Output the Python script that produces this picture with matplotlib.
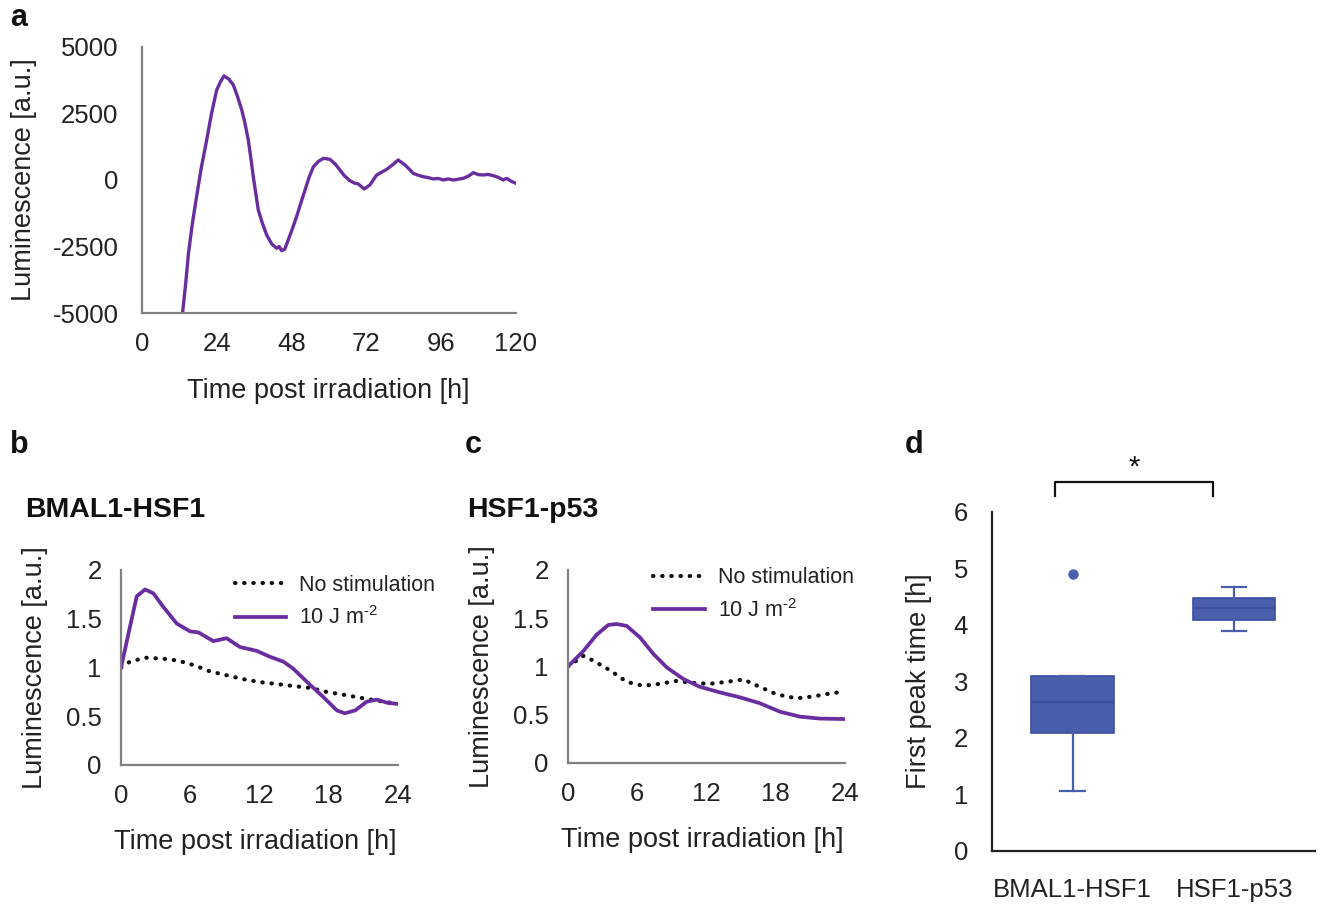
import matplotlib
matplotlib.use('Agg')
import matplotlib.pyplot as plt

plt.rcParams['font.family'] = ['Liberation Sans', 'DejaVu Sans']
plt.rcParams['axes.unicode_minus'] = False
plt.rcParams['mathtext.fontset'] = 'custom'
plt.rcParams['mathtext.rm'] = 'Liberation Sans'
plt.rcParams['mathtext.default'] = 'rm'

PURPLE = '#6a2d9f'
BLUE = '#4a5fab'
BLUE_EDGE = '#3b4fa3'
GREY = '#808080'

# panel a: detrended luminescence trace
a_time = [13.0, 14.0, 14.9, 16.2, 17.5, 19.0, 20.75, 22.3, 23.96, 25.2, 26.3, 27.8, 29.3,
          30.6, 32.0, 33.0, 34.1, 35.0, 35.7, 36.5, 37.3, 38.7, 40.0, 41.6, 43.2, 44.0,
          44.8, 45.8, 46.9, 48.2, 49.6, 51.0, 52.3, 53.6, 55.0, 56.6, 58.2, 60.3, 62.0,
          63.5, 65.0, 66.7, 68.0, 69.4, 71.3, 73.1, 75.3, 77.0, 78.5, 80.3, 82.2, 84.4,
          85.8, 87.0, 88.6, 90.2, 91.8, 93.5, 95.0, 96.7, 98.3, 99.9, 101.5, 103.1,
          104.8, 106.3, 108.0, 109.5, 111.0, 112.7, 114.3, 115.9, 117.0, 118.5, 120.0]
a_lum = [-5000, -3900, -2756, -1600, -628, 450, 1504, 2500, 3383, 3700, 3910, 3800, 3571,
         3150, 2632, 2150, 1504, 750, 124, -500, -1128, -1650, -2068, -2400, -2569, -2500,
         -2657, -2600, -2256, -1850, -1378, -850, -376, 100, 500, 700, 814, 777, 600,
         376, 150, -25, -110, -150, -338, -188, 188, 300, 401, 560, 752, 564, 400, 251,
         180, 124, 90, 38, 60, 0, 40, 0, 30, 64, 150, 275, 200, 188, 210, 163, 100, 0,
         60, -50, -125]

# panel b: BMAL1-HSF1
b_time_stim = [0.0, 0.78, 1.36, 2.08, 2.8, 3.67, 4.83, 5.98, 6.7, 8.0, 9.15, 10.3, 11.76,
               12.9, 14.06, 14.9, 16.4, 17.5, 18.7, 19.4, 20.3, 21.3, 22.2, 23.0, 24.0]
b_lum_stim = [1.0, 1.42, 1.73, 1.80, 1.76, 1.62, 1.45, 1.37, 1.36, 1.27, 1.30, 1.21, 1.17,
              1.11, 1.06, 0.99, 0.82, 0.70, 0.56, 0.53, 0.56, 0.65, 0.67, 0.64, 0.625]
b_time_ctrl = [0.0, 0.78, 2.08, 3.67, 4.97, 6.4, 7.7, 9.15, 10.6, 12.04, 13.5, 14.9, 16.4,
               17.8, 19.3, 20.7, 22.2, 24.0]
b_lum_ctrl = [1.0, 1.06, 1.10, 1.09, 1.07, 1.02, 0.96, 0.92, 0.88, 0.85, 0.83, 0.81, 0.79,
              0.75, 0.72, 0.69, 0.66, 0.625]

# panel c: HSF1-p53
c_time_stim = [0.0, 1.33, 2.49, 3.5, 4.22, 5.09, 6.24, 7.4, 8.56, 10.0, 11.4, 13.2, 14.9,
               16.6, 18.4, 20.1, 21.8, 24.0]
c_lum_stim = [1.0, 1.16, 1.33, 1.43, 1.44, 1.42, 1.30, 1.13, 0.99, 0.87, 0.79, 0.73, 0.68,
              0.62, 0.53, 0.48, 0.46, 0.455]
c_time_ctrl = [0.0, 1.33, 2.2, 3.64, 5.09, 6.5, 7.95, 9.4, 10.8, 12.3, 13.7, 15.2, 16.6,
               18.1, 19.8, 21.3, 22.7, 24.0]
c_lum_ctrl = [1.0, 1.11, 1.06, 0.96, 0.84, 0.80, 0.82, 0.85, 0.83, 0.82, 0.84, 0.865, 0.79,
              0.71, 0.67, 0.69, 0.72, 0.74]

# panel d: first peak time box plots
d_groups = ['BMAL1-HSF1', 'HSF1-p53']
d_whislo = [1.06, 3.89]
d_q1 = [2.09, 4.08]
d_med = [2.63, 4.30]
d_q3 = [3.10, 4.48]
d_whishi = [3.10, 4.66]
d_fliers = [[4.90], []]

time_ticks_a = [0, 24, 48, 72, 96, 120]
lum_ticks_a = [-5000, -2500, 0, 2500, 5000]
time_ticks_bc = [0, 6, 12, 18, 24]
lum_ticks_bc = [0, 0.5, 1, 1.5, 2]

fig = plt.figure(figsize=(13.2, 9.07), dpi=100)

ax_a = fig.add_axes([0.1076, 0.6549, 0.2833, 0.2933])
ax_b = fig.add_axes([0.0917, 0.1566, 0.2098, 0.2150])
ax_c = fig.add_axes([0.4303, 0.1588, 0.2098, 0.2128])
ax_d = fig.add_axes([0.7513, 0.0621, 0.2449, 0.3738])


def style_axes(ax, color, lw, ypad, xpad):
    for side in ['top', 'right']:
        ax.spines[side].set_visible(False)
    for side in ['left', 'bottom']:
        ax.spines[side].set_color(color)
        ax.spines[side].set_linewidth(lw)
    ax.tick_params(axis='y', length=0, pad=ypad, labelsize=18.5, colors='#222222')
    ax.tick_params(axis='x', length=0, pad=xpad, labelsize=18.5, colors='#222222')


# panel a
ax_a.plot(a_time, a_lum, color=PURPLE, lw=2.4, solid_joinstyle='round')
ax_a.set_xlim(0, 120)
ax_a.set_ylim(-5000, 5000)
ax_a.set_xticks(time_ticks_a)
ax_a.set_yticks(lum_ticks_a)
style_axes(ax_a, GREY, 1.6, 17, 14)
ax_a.set_xlabel('Time post irradiation [h]', fontsize=19.5, color='#222222')
ax_a.set_ylabel('Luminescence [a.u.]', fontsize=19.5, color='#222222')
ax_a.xaxis.set_label_coords(0.497, -0.245)
ax_a.yaxis.set_label_coords(-0.28, 0.5)

# panels b and c
for ax, ts, ls, tc, lc, leg_xy, title, letter_x in [
        (ax_b, b_time_stim, b_lum_stim, b_time_ctrl, b_lum_ctrl, (0.41, 0.975), 'BMAL1-HSF1', 25),
        (ax_c, c_time_stim, c_lum_stim, c_time_ctrl, c_lum_ctrl, (0.307, 1.015), 'HSF1-p53', 467)]:
    ax.plot(tc, lc, color='#111111', lw=3.0, linestyle=(0, (0.1, 2.1)),
            dash_capstyle='round', label='No stimulation')
    ax.plot(ts, ls, color=PURPLE, lw=2.7, label='10 J m$^{\\text{-2}}$')
    ax.set_xlim(0, 24)
    ax.set_ylim(0, 2)
    ax.set_xticks(time_ticks_bc)
    ax.set_yticks(lum_ticks_bc)
    ax.set_yticklabels(['0', '0.5', '1', '1.5', '2'])
    style_axes(ax, GREY, 1.6, 14, 14)
    ax.set_xlabel('Time post irradiation [h]', fontsize=19.5, color='#222222')
    ax.set_ylabel('Luminescence [a.u.]', fontsize=19.5, color='#222222')
    ax.xaxis.set_label_coords(0.484, -0.33)
    ax.yaxis.set_label_coords(-0.262, 0.5)
    leg = ax.legend(loc='upper left', bbox_to_anchor=leg_xy, frameon=False, fontsize=15.5,
                    borderpad=0, borderaxespad=0, handlelength=2.4, handletextpad=0.6,
                    labelspacing=0.5)
    for t in leg.get_texts():
        t.set_color('#222222')
    fig.text(letter_x / 1320, 1 - 510 / 907, title, fontsize=20.5, fontweight='bold',
             ha='left', va='center', color='#111111')

# panel d
stats = []
for i, name in enumerate(d_groups):
    stats.append({'label': name, 'whislo': d_whislo[i], 'q1': d_q1[i], 'med': d_med[i],
                  'q3': d_q3[i], 'whishi': d_whishi[i], 'fliers': d_fliers[i]})
ax_d.bxp(stats, positions=[1, 2], widths=0.51, patch_artist=True,
         boxprops=dict(facecolor=BLUE, edgecolor=BLUE_EDGE, linewidth=1.2),
         medianprops=dict(color=BLUE_EDGE, linewidth=1.6),
         whiskerprops=dict(color=BLUE, linewidth=1.6),
         capprops=dict(color=BLUE, linewidth=1.6),
         flierprops=dict(marker='o', markerfacecolor=BLUE, markeredgecolor=BLUE, markersize=6.5),
         capwidths=0.15)
ax_d.set_xlim(0.5, 2.5)
ax_d.set_ylim(0, 6)
ax_d.set_yticks([0, 1, 2, 3, 4, 5, 6])
style_axes(ax_d, '#222222', 1.6, 17, 20)
ax_d.set_ylabel('First peak time [h]', fontsize=19.5, color='#222222')
ax_d.yaxis.set_label_coords(-0.185, 0.5)

# significance bracket
ax_d.plot([0.89, 0.89, 1.87, 1.87], [6.27, 6.53, 6.53, 6.27], color='#111111', lw=1.6,
          clip_on=False)
ax_d.text(1.38, 6.78, '*', fontsize=21, ha='center', va='center', color='#111111')

# panel letters
for letter, x, y in [('a', 10, 18), ('b', 10, 445), ('c', 465, 445), ('d', 905, 445)]:
    fig.text(x / 1320, 1 - y / 907, letter, fontsize=22, fontweight='bold',
             ha='left', va='center', color='#111111')

fig.savefig('out.png', dpi=100)
